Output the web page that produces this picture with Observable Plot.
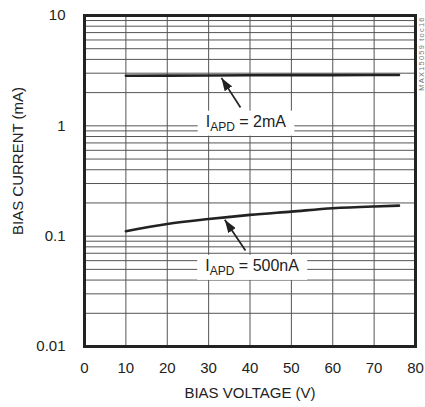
<!DOCTYPE html>
<html><head><meta charset="utf-8">
<script src="https://cdn.jsdelivr.net/npm/d3@7"></script>
<script src="https://cdn.jsdelivr.net/npm/@observablehq/plot@0.6"></script>
<style>body{margin:0;background:#fff}</style>
</head><body><div id="chart"></div>
<script>
// ---- data ----
const voltage = [10, 20, 30, 40, 50, 60, 70, 76];
const current2mA = [2.84, 2.85, 2.86, 2.87, 2.88, 2.88, 2.89, 2.89];
const current500nA = [0.111, 0.129, 0.143, 0.156, 0.167, 0.179, 0.186, 0.189];
const xTicks = [0, 10, 20, 30, 40, 50, 60, 70, 80];
const xGrid = [10, 20, 30, 40, 50, 60, 70];
const yTicks = [0.01, 0.1, 1, 10];
const yTickLabels = ["0.01", "0.1", "1", "10"];
const yGrid = [0.02,0.03,0.04,0.05,0.06,0.07,0.08,0.09,
               0.1,0.2,0.3,0.4,0.5,0.6,0.7,0.8,0.9,
               1,2,3,4,5,6,7,8,9];
const annotMain = ["I", "I"];
const annotSub = ["APD", "APD"];
const annotRest = [" = 2mA", " = 500nA"];
const annotX = [39.0, 40.5];
const annotY = [1.094, 0.0539];
const arrowFromX = [37.7, 38.9];
const arrowFromY = [1.466, 0.0742];
const arrowToX = [33.1, 33.9];
const arrowToY = [2.72, 0.1406];
const xLabel = "BIAS VOLTAGE (V)";
const yLabel = "BIAS CURRENT (mA)";
const watermark = "MAX15059 toc16";

// ---- tables ----
const s1 = voltage.map((v, i) => ({v, c: current2mA[i]}));
const s2 = voltage.map((v, i) => ({v, c: current500nA[i]}));
const annots = annotMain.map((m, i) => ({x: annotX[i], y: annotY[i], main: m, sub: annotSub[i], rest: annotRest[i]}));
const annotStrings = annots.map(d => d.main + d.sub + d.rest);
const arrows = arrowFromX.map((x1, i) => ({x1, y1: arrowFromY[i], x2: arrowToX[i], y2: arrowToY[i]}));

const plot = Plot.plot({
  width: 425, height: 407,
  marginLeft: 84, marginRight: 10, marginTop: 15, marginBottom: 61,
  style: {fontFamily: "'Liberation Sans', Arial, sans-serif", fontSize: "15px", background: "#fff", color: "#222"},
  x: {domain: [0, 80]},
  y: {type: "log", domain: [0.01, 10]},
  marks: [
    Plot.ruleY(yGrid, {stroke: "#555", strokeWidth: 1}),
    Plot.ruleX(xGrid, {stroke: "#555", strokeWidth: 1}),
    Plot.line(s1, {x: "v", y: "c", stroke: "#222", strokeWidth: 2.6}),
    Plot.line(s2, {x: "v", y: "c", stroke: "#222", strokeWidth: 2.6, curve: "monotone-x"}),
    Plot.link(arrows, {x1: "x1", y1: "y1", x2: "x2", y2: "y2", stroke: "#222", strokeWidth: 1.7}),
    Plot.text(annots, {x: "x", y: "y", text: d => d.main + d.sub + d.rest, fontSize: 16, fill: "#222"}),
    Plot.axisX({ticks: xTicks, tickSize: 0, tickPadding: 16, label: null}),
    Plot.axisY({ticks: yTicks, tickSize: 0, tickPadding: 19, label: null, tickFormat: d => yTickLabels[yTicks.indexOf(d)]}),
    Plot.text([yLabel], {frameAnchor: "left", textAnchor: "middle", rotate: -90, dx: -66, dy: -20, fontSize: 15, fill: "#222"}),
    Plot.text([xLabel], {frameAnchor: "bottom", dy: 51, fontSize: 15, fill: "#222"}),
    Plot.text([watermark], {frameAnchor: "top-right", textAnchor: "middle", rotate: -90, dx: 3, dy: 38, fontSize: 7.5, fill: "#777"}),
    Plot.frame({stroke: "#222", strokeWidth: 3})
  ]
});
document.getElementById("chart").append(plot);

// ---- post-process: arrowheads, subscripts, label boxes ----
const svg = d3.select(plot);
const defs = svg.append("defs");
defs.append("marker")
  .attr("id", "ah").attr("viewBox", "0 0 13 9").attr("refX", 13).attr("refY", 4.5)
  .attr("markerWidth", 13).attr("markerHeight", 9)
  .attr("markerUnits", "userSpaceOnUse").attr("orient", "auto")
  .append("path").attr("d", "M0,0L13,4.5L0,9z").attr("fill", "#222");
svg.selectAll('g[aria-label="link"] path').attr("marker-end", "url(#ah)");

svg.selectAll("text").each(function() {
  const el = this;
  if (el.textContent === watermark) {
    el.setAttribute("letter-spacing", "1.2");
    return;
  }
  const i = annotStrings.indexOf(el.textContent);
  if (i < 0) return;
  const L = annots[i];
  const t = d3.select(el);
  t.text(null);
  t.append("tspan").text(L.main);
  t.append("tspan").attr("font-size", 12).attr("dy", 4).text(L.sub);
  t.append("tspan").attr("dy", -4).text(L.rest);
  const b = el.getBBox();
  const r = d3.select(el.parentNode).insert("rect", () => el)
    .attr("x", b.x - 8).attr("y", b.y - 2)
    .attr("width", b.width + 16).attr("height", b.height + 4)
    .attr("fill", "#fff");
  if (el.getAttribute("transform")) r.attr("transform", el.getAttribute("transform"));
});
</script>
</body></html>
